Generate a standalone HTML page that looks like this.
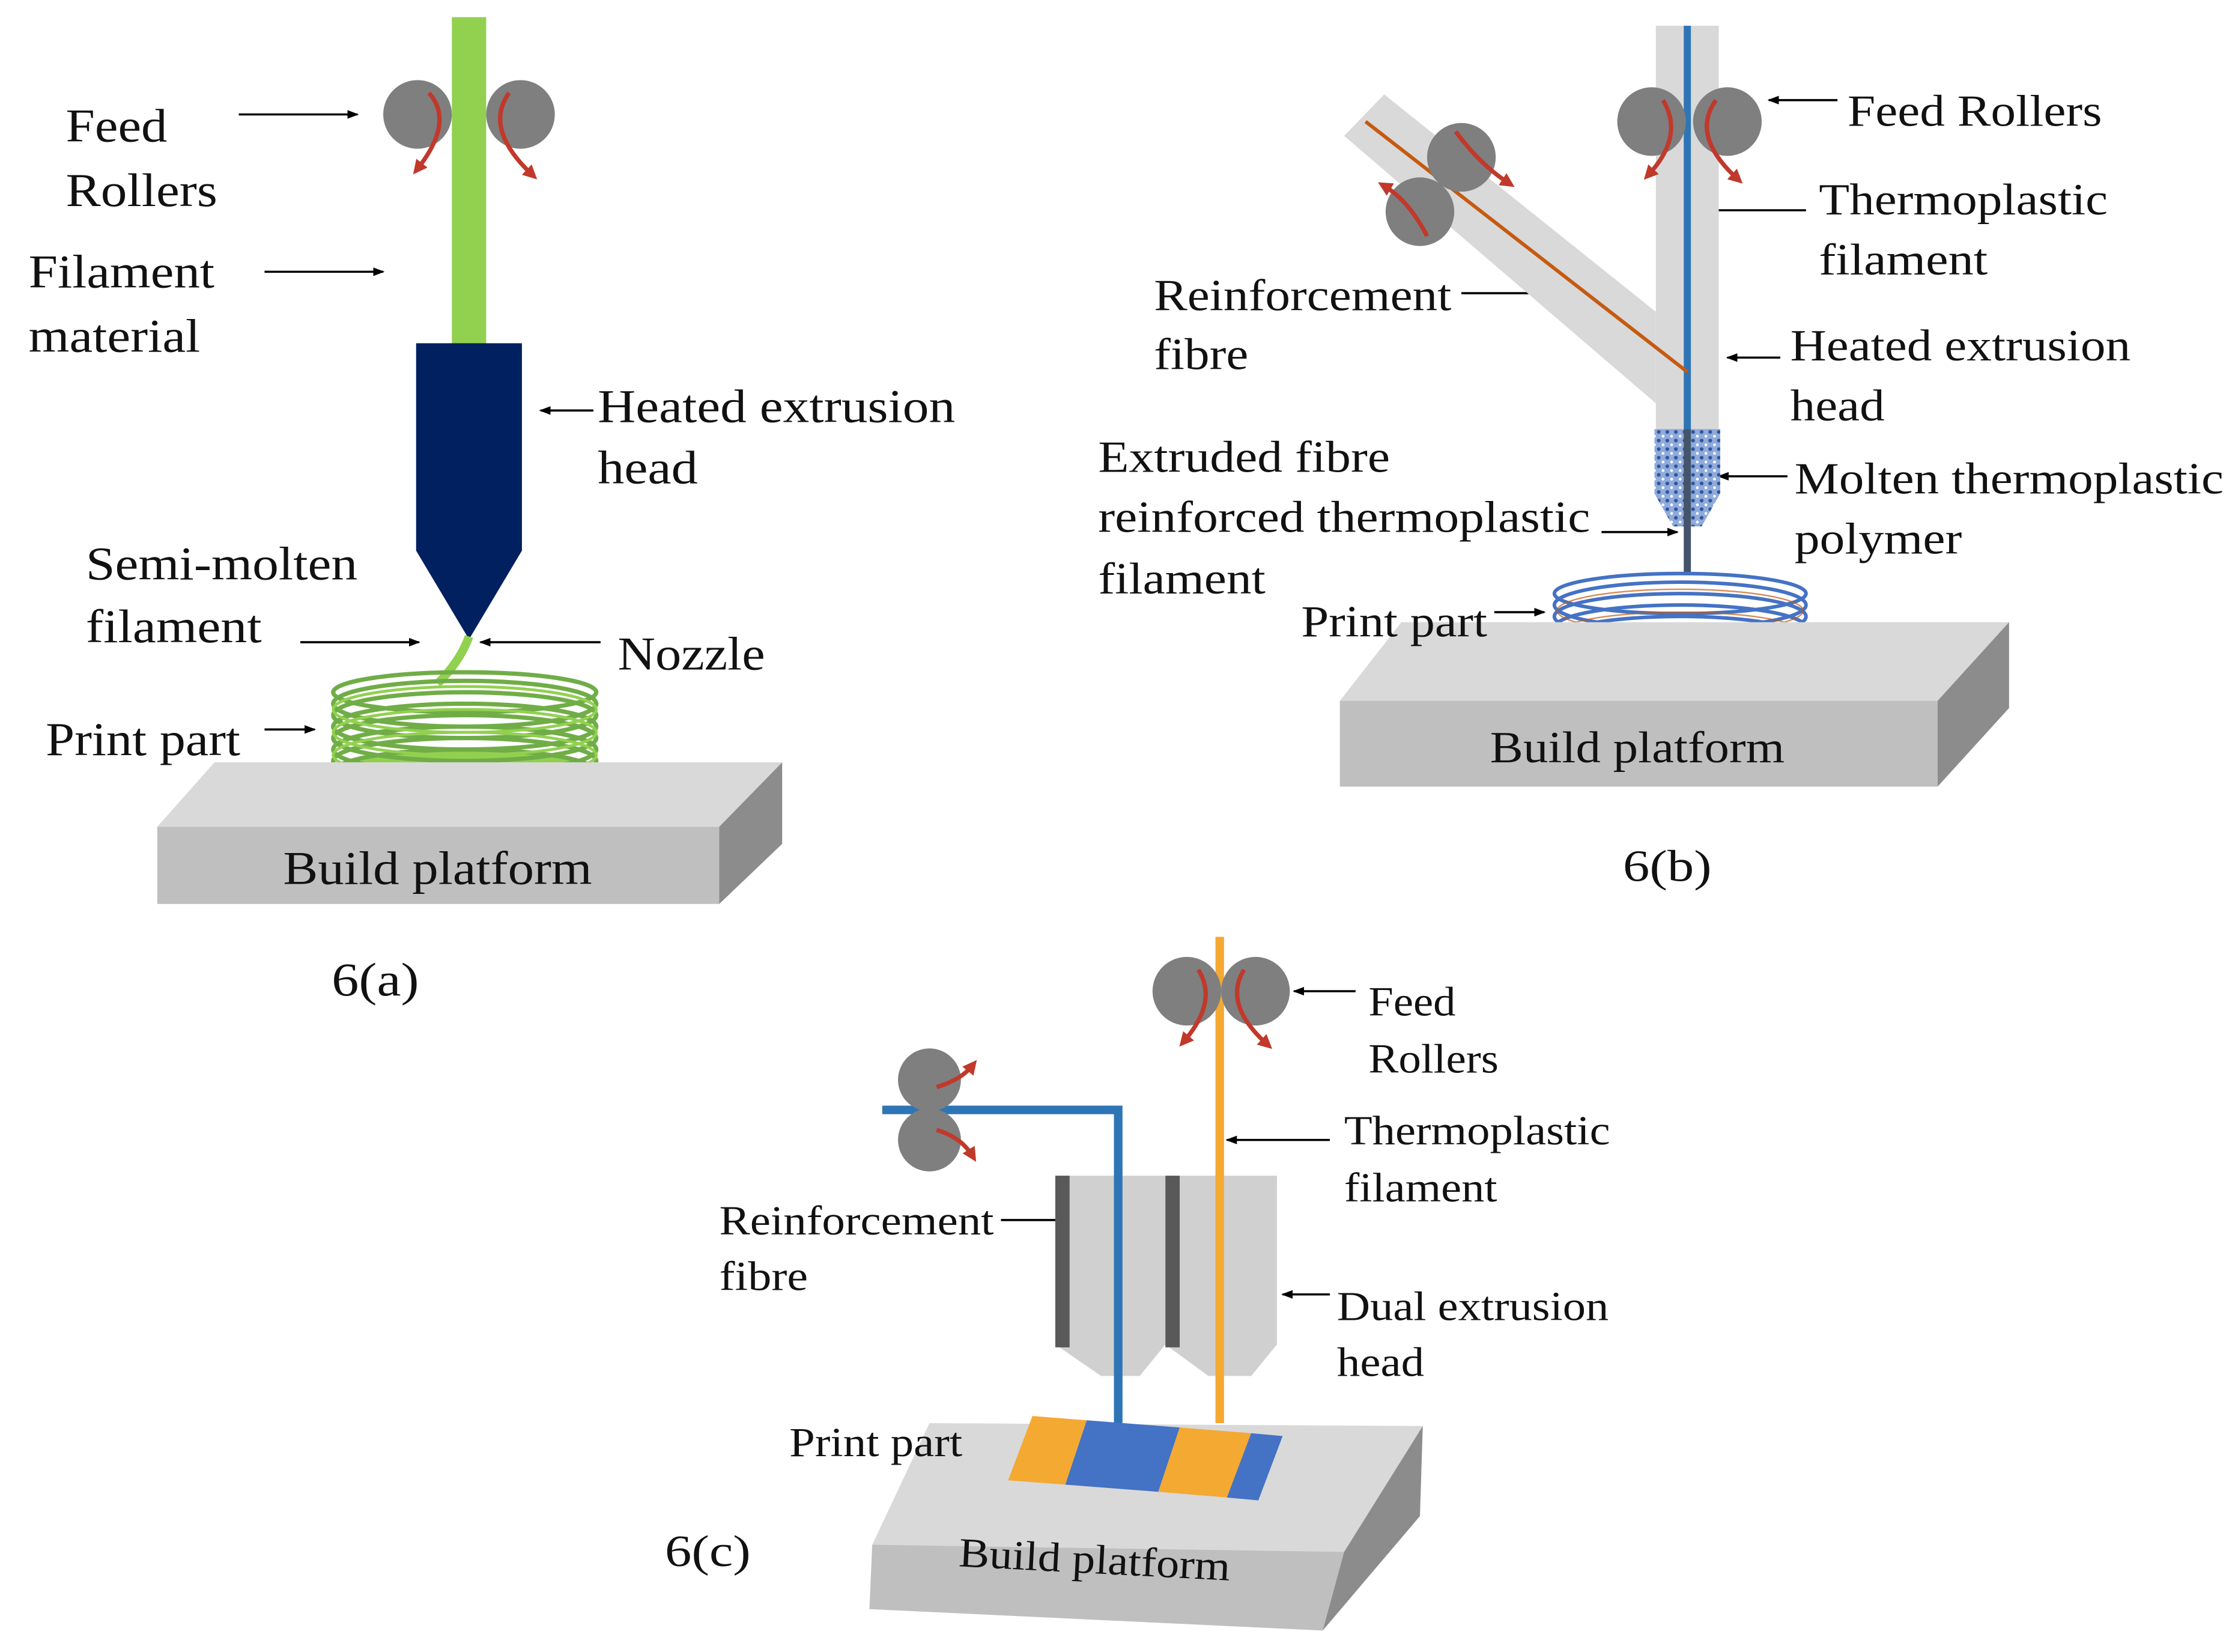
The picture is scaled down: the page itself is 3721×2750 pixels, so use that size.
<!DOCTYPE html>
<html><head><meta charset="utf-8"><style>
html,body{margin:0;padding:0;background:#fff;}
svg{display:block;}
svg text{font-family:"Liberation Serif","Times New Roman","DejaVu Serif",serif !important;fill:#111;}
</style></head><body>
<svg width="3721" height="2750" viewBox="0 0 1563 1155" preserveAspectRatio="none" xmlns="http://www.w3.org/2000/svg" font-family="Liberation Serif, Times New Roman, serif">
<defs>
<marker id="ah" markerWidth="8" markerHeight="6" refX="7" refY="3" orient="auto" markerUnits="userSpaceOnUse"><path d="M0,0 L8,3 L0,6 z" fill="#000"/></marker>
<marker id="rh" markerWidth="10" markerHeight="10" refX="5" refY="5" orient="auto" markerUnits="userSpaceOnUse"><path d="M0,0 L10,5 L0,10 z" fill="#c0392b"/></marker>
<pattern id="spk" width="6" height="6" patternUnits="userSpaceOnUse"><rect width="6" height="6" fill="#8faadc"/><circle cx="2" cy="2" r="1.3" fill="#2f5597"/><circle cx="5" cy="5" r="1" fill="#fff"/></pattern>
</defs>
<g stroke="#000" stroke-width="1.5" fill="none" marker-end="url(#ah)">
<line x1="167" y1="80" x2="250" y2="80"/><line x1="185" y1="190" x2="268" y2="190"/>
<line x1="415" y1="287" x2="378" y2="287"/><line x1="210" y1="449" x2="293" y2="449"/>
<line x1="420" y1="449" x2="336" y2="449"/><line x1="185" y1="510" x2="220" y2="510"/>
<line x1="1285" y1="70" x2="1237" y2="70"/><line x1="1263" y1="147" x2="1190" y2="147"/>
<line x1="1022" y1="205" x2="1102" y2="205"/><line x1="1245" y1="250" x2="1208" y2="250"/>
<line x1="1120" y1="372" x2="1173" y2="372"/><line x1="1250" y1="333" x2="1202" y2="333"/>
<line x1="1045" y1="428" x2="1080" y2="428"/>
<line x1="948" y1="693" x2="905" y2="693"/><line x1="930" y1="797" x2="858" y2="797"/>
<line x1="700" y1="853" x2="775" y2="853"/><line x1="930" y1="905" x2="897" y2="905"/>
<line x1="693" y1="1000" x2="725" y2="1000"/>
</g>

<rect x="316" y="12" width="24" height="230" fill="#92d050"/>
<circle cx="292" cy="80" r="24" fill="#7f7f7f"/><circle cx="364" cy="80" r="24" fill="#7f7f7f"/>
<g stroke="#c0392b" stroke-width="3" fill="none" marker-end="url(#rh)">
<path d="M300,65 Q318,85 292,118"/><path d="M356,65 Q338,90 372,122"/></g>
<path d="M291,240 H365 V385 L328,447 L291,385 Z" fill="#002060"/>
<path d="M328,445 Q322,462 306,478" stroke="#92d050" stroke-width="6" fill="none"/>
<g fill="none" stroke="#70ad47" stroke-width="3">
<ellipse cx="325" cy="540" rx="92" ry="16" fill="#92d050"/>
<ellipse cx="325" cy="532" rx="92" ry="16"/><ellipse cx="325" cy="524" rx="92" ry="16"/>
<ellipse cx="325" cy="516" rx="92" ry="16"/><ellipse cx="325" cy="508" rx="92" ry="16"/>
<ellipse cx="325" cy="500" rx="92" ry="16"/><ellipse cx="325" cy="492" rx="92" ry="16"/>
<ellipse cx="325" cy="484" rx="92" ry="14"/></g>
<g stroke="#92d050" stroke-width="2" fill="none">
<ellipse cx="325" cy="528" rx="92" ry="16"/><ellipse cx="325" cy="512" rx="92" ry="16"/><ellipse cx="325" cy="496" rx="92" ry="16"/></g>
<polygon points="110,578 150,533 547,533 503,578" fill="#d9d9d9"/>
<polygon points="110,578 503,578 503,632 110,632" fill="#bfbfbf"/>
<polygon points="503,578 547,533 547,590 503,632" fill="#8c8c8c"/>
<g font-size="33" lengthAdjust="spacingAndGlyphs">
<text x="46" y="99" textLength="71" lengthAdjust="spacingAndGlyphs">Feed</text>
<text x="46" y="144" textLength="106" lengthAdjust="spacingAndGlyphs">Rollers</text>
<text x="20" y="201" textLength="130" lengthAdjust="spacingAndGlyphs">Filament</text>
<text x="20" y="246" textLength="120" lengthAdjust="spacingAndGlyphs">material</text>
<text x="418" y="295" textLength="250" lengthAdjust="spacingAndGlyphs">Heated extrusion</text>
<text x="418" y="338" textLength="70" lengthAdjust="spacingAndGlyphs">head</text>
<text x="60" y="405" textLength="190" lengthAdjust="spacingAndGlyphs">Semi-molten</text>
<text x="60" y="449" textLength="123" lengthAdjust="spacingAndGlyphs">filament</text>
<text x="432" y="468" textLength="103" lengthAdjust="spacingAndGlyphs">Nozzle</text>
<text x="32" y="528" textLength="136" lengthAdjust="spacingAndGlyphs">Print part</text>
<text x="198" y="618" textLength="216" lengthAdjust="spacingAndGlyphs">Build platform</text>
<text x="232" y="696" textLength="61" lengthAdjust="spacingAndGlyphs">6(a)</text>
</g>

<polygon points="940,95 968,66 1158,218 1158,282" fill="#d9d9d9"/>
<rect x="1158" y="18" width="44" height="284" fill="#d9d9d9"/>
<line x1="1180" y1="18" x2="1180" y2="345" stroke="#2e75b6" stroke-width="5"/>
<line x1="955" y1="85" x2="1180" y2="260" stroke="#c55a11" stroke-width="2.5"/>
<path d="M1157,300 H1203 V345 L1190,368 H1170 L1157,345 Z" fill="url(#spk)"/>
<line x1="1180" y1="300" x2="1180" y2="400" stroke="#44546a" stroke-width="5"/>
<circle cx="1155" cy="85" r="24" fill="#7f7f7f"/><circle cx="1208" cy="85" r="24" fill="#7f7f7f"/>
<circle cx="1022" cy="110" r="24" fill="#7f7f7f"/><circle cx="993" cy="148" r="24" fill="#7f7f7f"/>
<g stroke="#c0392b" stroke-width="3" fill="none" marker-end="url(#rh)">
<path d="M1163,70 Q1178,95 1153,122"/><path d="M1200,70 Q1182,95 1215,125"/>
<path d="M1018,92 Q1035,115 1055,128"/><path d="M998,165 Q985,140 968,130"/></g>
<g fill="#b4c7e7" stroke="#4472c4" stroke-width="2.5">
<ellipse cx="1175" cy="455" rx="88" ry="16"/>
<ellipse cx="1175" cy="447" rx="88" ry="16" fill="none"/><ellipse cx="1175" cy="439" rx="88" ry="16" fill="none"/>
<ellipse cx="1175" cy="431" rx="88" ry="16" fill="none"/><ellipse cx="1175" cy="423" rx="88" ry="16" fill="none"/>
<ellipse cx="1175" cy="415" rx="88" ry="14" fill="none"/></g>
<g stroke="#c55a11" stroke-width="1" fill="none" opacity="0.7"><ellipse cx="1175" cy="443" rx="86" ry="15"/><ellipse cx="1175" cy="427" rx="86" ry="15"/></g>
<polygon points="937,490 980,435 1405,435 1355,490" fill="#d9d9d9"/>
<polygon points="937,490 1355,490 1355,550 937,550" fill="#bfbfbf"/>
<polygon points="1355,490 1405,435 1405,495 1355,550" fill="#8c8c8c"/>
<g font-size="31">
<text x="1292" y="88" textLength="178" lengthAdjust="spacingAndGlyphs">Feed Rollers</text>
<text x="1272" y="150" textLength="202" lengthAdjust="spacingAndGlyphs">Thermoplastic</text>
<text x="1272" y="192" textLength="118" lengthAdjust="spacingAndGlyphs">filament</text>
<text x="807" y="217" textLength="208" lengthAdjust="spacingAndGlyphs">Reinforcement</text>
<text x="807" y="258" textLength="66" lengthAdjust="spacingAndGlyphs">fibre</text>
<text x="1252" y="252" textLength="238" lengthAdjust="spacingAndGlyphs">Heated extrusion</text>
<text x="1252" y="294" textLength="66" lengthAdjust="spacingAndGlyphs">head</text>
<text x="768" y="330" textLength="204" lengthAdjust="spacingAndGlyphs">Extruded fibre</text>
<text x="768" y="372" textLength="344" lengthAdjust="spacingAndGlyphs">reinforced thermoplastic</text>
<text x="768" y="415" textLength="117" lengthAdjust="spacingAndGlyphs">filament</text>
<text x="1255" y="345" textLength="300" lengthAdjust="spacingAndGlyphs">Molten thermoplastic</text>
<text x="1255" y="387" textLength="117" lengthAdjust="spacingAndGlyphs">polymer</text>
<text x="910" y="445" textLength="130" lengthAdjust="spacingAndGlyphs">Print part</text>
<text x="1042" y="533" textLength="206" lengthAdjust="spacingAndGlyphs">Build platform</text>
<text x="1135" y="616" textLength="62" lengthAdjust="spacingAndGlyphs">6(b)</text>
</g>

<path d="M738,822 H815 V940 L797,962 H770 L738,940 Z" fill="#d0d0d0"/>
<path d="M815,822 H893 V940 L875,962 H845 L815,940 Z" fill="#d0d0d0"/>
<rect x="738" y="822" width="10" height="120" fill="#595959"/>
<rect x="815" y="822" width="10" height="120" fill="#595959"/>
<line x1="853" y1="655" x2="853" y2="995" stroke="#f4a933" stroke-width="6"/>
<polyline points="617,776 782,776 782,995" fill="none" stroke="#2e75b6" stroke-width="6"/>
<circle cx="830" cy="693" r="24" fill="#7f7f7f"/><circle cx="878" cy="693" r="24" fill="#7f7f7f"/>
<circle cx="650" cy="755" r="22" fill="#7f7f7f"/><circle cx="650" cy="797" r="22" fill="#7f7f7f"/>
<g stroke="#c0392b" stroke-width="3" fill="none" marker-end="url(#rh)">
<path d="M838,678 Q852,700 828,728"/><path d="M870,678 Q855,702 886,730"/>
<path d="M655,760 Q672,755 680,745"/><path d="M655,790 Q672,795 680,808"/></g>
<polygon points="610,1080 650,995 995,997 940,1085" fill="#d9d9d9"/>
<polygon points="610,1080 940,1085 925,1140 608,1125" fill="#bfbfbf"/>
<polygon points="940,1085 995,997 993,1060 925,1140" fill="#8c8c8c"/>
<polygon points="722,990 760,993 745,1038 705,1035" fill="#f4a933"/>
<polygon points="760,993 825,998 810,1043 745,1038" fill="#4472c4"/>
<polygon points="825,998 875,1002 858,1047 810,1043" fill="#f4a933"/>
<polygon points="875,1002 897,1004 880,1049 858,1047" fill="#4472c4"/>
<g font-size="29">
<text x="957" y="710" textLength="61" lengthAdjust="spacingAndGlyphs">Feed</text>
<text x="957" y="750" textLength="91" lengthAdjust="spacingAndGlyphs">Rollers</text>
<text x="940" y="800" textLength="186" lengthAdjust="spacingAndGlyphs">Thermoplastic</text>
<text x="940" y="840" textLength="107" lengthAdjust="spacingAndGlyphs">filament</text>
<text x="503" y="863" textLength="192" lengthAdjust="spacingAndGlyphs">Reinforcement</text>
<text x="503" y="902" textLength="62" lengthAdjust="spacingAndGlyphs">fibre</text>
<text x="935" y="923" textLength="190" lengthAdjust="spacingAndGlyphs">Dual extrusion</text>
<text x="935" y="962" textLength="61" lengthAdjust="spacingAndGlyphs">head</text>
<text x="552" y="1018" textLength="121" lengthAdjust="spacingAndGlyphs">Print part</text>
<text x="465" y="1095" font-size="31" textLength="60" lengthAdjust="spacingAndGlyphs">6(c)</text>
<text x="670" y="1100" transform="rotate(3 765 1100)" textLength="190" lengthAdjust="spacingAndGlyphs">Build platform</text>
</g>
</svg>
</body></html>
